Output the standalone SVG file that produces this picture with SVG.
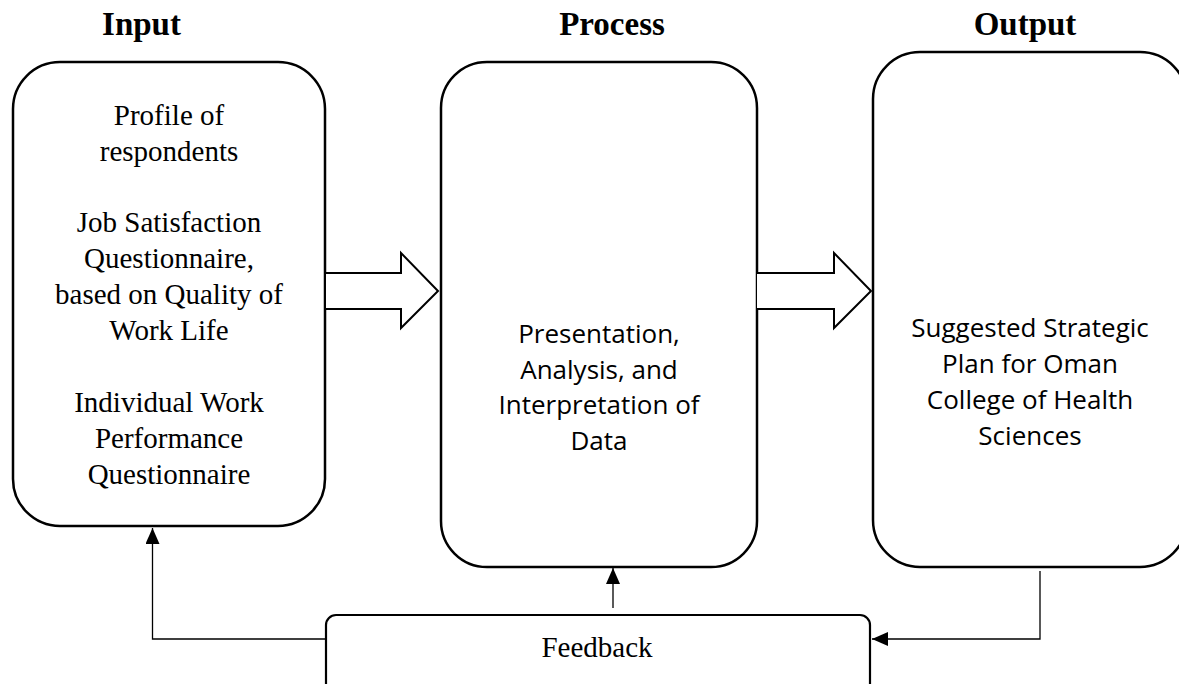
<svg xmlns="http://www.w3.org/2000/svg" width="1179" height="684" viewBox="0 0 1179 684">
<style>
.box{fill:#fff;stroke:#000;stroke-width:2.5}
.fb{fill:#fff;stroke:#000;stroke-width:2.2}
.blk{fill:#fff;stroke:#000;stroke-width:2}
.con{fill:none;stroke:#000;stroke-width:1.3}
.title{font-family:"Liberation Serif","Times New Roman",serif;font-weight:bold;font-size:33px;text-anchor:middle;fill:#000}
.serif{font-family:"Liberation Serif","Times New Roman",serif;font-size:29px;text-anchor:middle;fill:#000}
.sans{font-family:"Open Sans","Liberation Sans",sans-serif;font-size:26px;text-anchor:middle;fill:#000}
</style>
<defs>
<marker id="ah" markerUnits="userSpaceOnUse" markerWidth="17" markerHeight="15" refX="16" refY="7" orient="auto">
<path d="M0,0 L16,7 L0,14 z" fill="#000"/>
</marker>
</defs>
<rect width="1179" height="684" fill="#fff"/>
<text class="title" x="141.5" y="35">Input</text>
<text class="title" x="612" y="35">Process</text>
<text class="title" x="1025" y="35">Output</text>
<g id="input">
<rect class="box" x="13" y="62" width="312" height="464" rx="47" ry="47"/>
<text class="serif" x="169" y="124.5">Profile of</text>
<text class="serif" x="169" y="160.5">respondents</text>
<text class="serif" x="169" y="232">Job Satisfaction</text>
<text class="serif" x="169" y="268">Questionnaire,</text>
<text class="serif" x="169" y="304">based on Quality of</text>
<text class="serif" x="169" y="340">Work Life</text>
<text class="serif" x="169" y="412">Individual Work</text>
<text class="serif" x="169" y="448">Performance</text>
<text class="serif" x="169" y="484">Questionnaire</text>
</g>
<g id="process">
<rect class="box" x="441" y="62" width="316" height="505" rx="46" ry="46"/>
<text class="sans" x="599" y="343">Presentation,</text>
<text class="sans" x="599" y="378.5">Analysis, and</text>
<text class="sans" x="599" y="414">Interpretation of</text>
<text class="sans" x="599" y="449.5">Data</text>
</g>
<g id="output">
<rect class="box" x="873" y="52" width="314" height="515" rx="47" ry="47"/>
<text class="sans" x="1030" y="337">Suggested Strategic</text>
<text class="sans" x="1030" y="373">Plan for Oman</text>
<text class="sans" x="1030" y="409">College of Health</text>
<text class="sans" x="1030" y="445">Sciences</text>
</g>
<g id="feedback">
<rect class="fb" x="326" y="615" width="544" height="100" rx="10" ry="10"/>
<text class="serif" x="597" y="657">Feedback</text>
</g>
<g id="connectors">
<path class="blk" d="M326,273 H401 V253 L438,291 L401,328 V309 H326"/>
<path class="blk" d="M757,273 H834 V253 L871,291 L834,328 V309 H757"/>
<path class="con" d="M326,639 H152.5 V528" marker-end="url(#ah)"/>
<path class="con" d="M613,608 V568" marker-end="url(#ah)"/>
<path class="con" d="M1040,571 V639 H872" marker-end="url(#ah)"/>
</g>
</svg>
